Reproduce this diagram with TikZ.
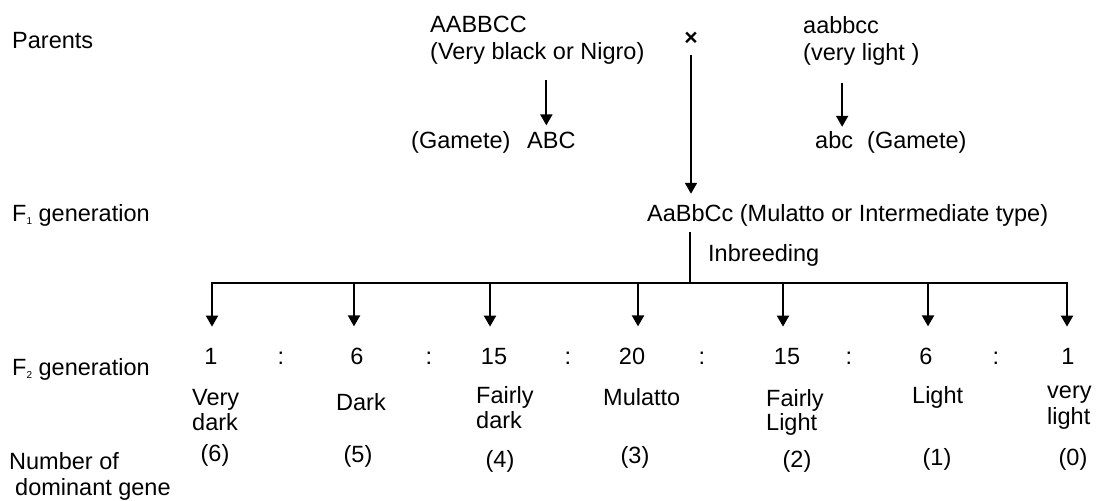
\documentclass[tikz,border=0pt]{standalone}
\usepackage{fontspec}
\setmainfont{Liberation Sans}
\usetikzlibrary{arrows.meta,calc}
\newcommand\lowidx[1]{\raisebox{-3pt}{\fontsize{10}{10}\selectfont #1}}

\begin{document}
\begin{tikzpicture}[x=1pt,y=-1pt,
  every node/.style={inner sep=0pt, font=\fontsize{23.5}{25.5}\selectfont},
  txt/.style={anchor=base west},
  mid/.style={anchor=base},
  link/.style={line width=2pt},
  arr/.style={link,-{Triangle[width=12pt,length=11pt]}},
  ]
\useasboundingbox (0,0) rectangle (1096,501);

% row titles
\node[txt] (parents) at (12,48) {Parents};
\node[txt] (f1title) at (12,221) {F\lowidx{1} generation};
\node[txt] (f2title) at (12,375) {F\lowidx{2} generation};
\node[txt] (dom1) at (9,469) {Number of};
\node[txt] (dom2) at (15,495) {dominant gene};

% parents
\node[txt] (pa)  at (430,32) {AABBCC};
\node[txt] (pab) at (430,59) {(Very black or Nigro)};
\node[txt] (pb)  at (803,33) {aabbcc};
\node[txt] (pbb) at (803,60) {(very light )};
\node (cross) at (691,38.5) {\fontsize{23}{23}\selectfont\bfseries ×};

% gametes
\node[txt] (gla) at (411,148) {(Gamete)};
\node[txt] (gA)  at (527,148) {ABC};
\node[txt] (gb)  at (815,148) {abc};
\node[txt] (glb) at (867,148) {(Gamete)};
\draw[arr] ($(pab.south -| gA.north)+(-5,16)$) -- ($(gA.north)+(-5,-6)$);
\draw[arr] ($(pbb.south -| gb.north)+(8,18)$) -- ($(gb.north)+(8,-4)$);

% F1
\node[txt] (f1) at (647,221) {AaBbCc (Mulatto or Intermediate type)};
\draw[arr] ($(cross.center)+(0,16.5)$) -- ($(cross.center |- f1.north)+(0,-10)$);

% inbreeding
\coordinate (bar) at (690,283);
\node[txt] (inb) at (708,261) {Inbreeding};
\draw[link] ($(bar |- f1.south)+(0,6)$) -- (bar);

\coordinate (b1) at (212,283);
\coordinate (b2) at (354,283);
\coordinate (b3) at (490,283);
\coordinate (b4) at (638,283);
\coordinate (b5) at (783,283);
\coordinate (b6) at (928,283);
\coordinate (b7) at (1067,283);
\draw[link,line cap=rect] (b1) -- (b7);

% F2 ratio
\node[mid] (r1) at (211,364) {1};
\node[mid] (r2) at (357,364) {6};
\node[mid] (r3) at (494,364) {15};
\node[mid] (r4) at (632,364) {20};
\node[mid] (r5) at (787,364) {15};
\node[mid] (r6) at (926,364) {6};
\node[mid] (r7) at (1068,364) {1};
\foreach \i in {1,...,7}
  \draw[arr] (b\i) -- ($(b\i |- r\i.north)+(0,-21)$);

\node[mid] (c1) at (281,364) {:};
\node[mid] (c2) at (429,364) {:};
\node[mid] (c3) at (568,364) {:};
\node[mid] (c4) at (702,364) {:};
\node[mid] (c5) at (849,364) {:};
\node[mid] (c6) at (996,364) {:};

% phenotypes
\node[txt] (p1a) at (192,405) {Very};
\node[txt] (p1b) at (192,430) {dark};
\node[mid] (p2)  at (361,410) {Dark};
\node[txt] (p3a) at (476,403) {Fairly};
\node[txt] (p3b) at (476,428) {dark};
\node[txt] (p4)  at (603,405) {Mulatto};
\node[txt] (p5a) at (766,406) {Fairly};
\node[txt] (p5b) at (766,430) {Light};
\node[txt] (p6)  at (912,403) {Light};
\node[txt] (p7a) at (1047,398) {very};
\node[txt] (p7b) at (1047,424) {light};

% dominant gene counts
\node[mid] (d1) at (215,461) {(6)};
\node[mid] (d2) at (358,462) {(5)};
\node[mid] (d3) at (500,467) {(4)};
\node[mid] (d4) at (635,463) {(3)};
\node[mid] (d5) at (797,467) {(2)};
\node[mid] (d6) at (937,465) {(1)};
\node[mid] (d7) at (1073,465) {(0)};
\end{tikzpicture}
\end{document}
